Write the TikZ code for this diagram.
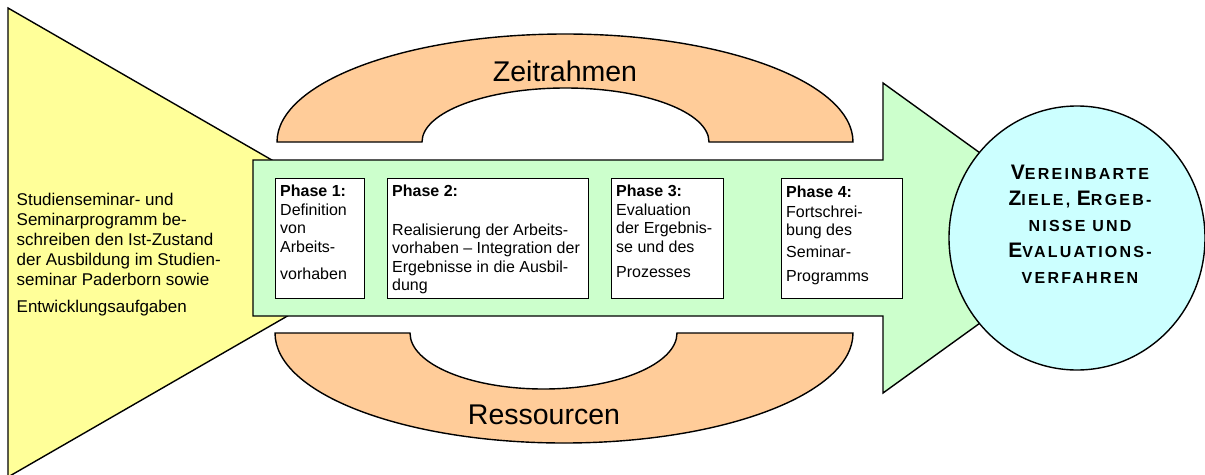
\documentclass[tikz,border=0pt]{standalone}
\usepackage{fontspec}
\setmainfont{Liberation Sans}
\definecolor{yel}{HTML}{FFFF99}
\definecolor{grn}{HTML}{CCFFCC}
\definecolor{org}{HTML}{FFCC99}
\definecolor{cyn}{HTML}{CCFFFF}
\newcommand{\BigC}[1]{{\fontsize{21}{26}\selectfont #1}}
\begin{document}
\begin{tikzpicture}[x=1pt,y=-1pt,line width=1.4pt,line join=miter,
  outl/.style={draw=black,line width=1.4pt},
  phasebox/.style={draw=black,fill=white,line width=1.4pt,rectangle,inner sep=0pt},
  phasetext/.style={anchor=north west,inner sep=0pt,align=left,font=\fontsize{16}{18.5}\selectfont},
  bigtext/.style={inner sep=0pt,font=\fontsize{28.5}{32}\selectfont}]
\useasboundingbox (0,0) rectangle (1205,474);
% yellow triangle
\draw[outl,fill=yel] (8,8) -- (415,242.5) -- (8,477) -- cycle;
% orange block arcs
\draw[outl,fill=org] (277,142) arc[start angle=180,end angle=360,x radius=288,y radius=108]
   -- (709,142) arc[start angle=360,end angle=180,x radius=143.5,y radius=54] -- cycle;
\draw[outl,fill=org] (275,333) arc[start angle=180,end angle=0,x radius=289,y radius=110]
   -- (677,333) arc[start angle=0,end angle=180,x radius=133.5,y radius=56] -- cycle;
\node[bigtext] (zeit) at (565,71.5) {Zeitrahmen};
\node[bigtext] (ress) at (544,415) {Ressourcen};
% green arrow
\draw[outl,fill=grn] (253,160) -- (883,160) -- (883,83) -- (1098,238) -- (883,393) -- (883,316) -- (253,316) -- cycle;
% circle
\draw[outl,fill=cyn] (1077,238) ellipse[x radius=128,y radius=132];
\node[inner sep=0pt,align=center,anchor=north,
  font=\fontsize{16}{26}\selectfont\bfseries\addfontfeatures{LetterSpace=14}] (goal) at (1080,164.5)
  {\BigC{V}EREINBARTE\\\BigC{Z}IELE, \BigC{E}RGEB-\\NISSE UND\\\BigC{E}VALUATIONS-\\VERFAHREN};
% phase boxes
\node[phasebox,minimum width=89pt,minimum height=120pt,anchor=north west] (b1) at (275,178) {};
\node[phasebox,minimum width=201pt,minimum height=120pt,anchor=north west] (b2) at (387,178) {};
\node[phasebox,minimum width=112pt,minimum height=120pt,anchor=north west] (b3) at (611,178) {};
\node[phasebox,minimum width=121pt,minimum height=120pt,anchor=north west] (b4) at (781,178) {};
\node[phasetext] (t1) at (279.5,184.5) {\textbf{Phase 1:}\\Definition\\von\\Arbeits-\\[9pt]vorhaben};
\node[phasetext] (t2) at (391.5,184.5) {\textbf{Phase 2:}\\[20pt]Realisierung der Arbeits-\\vorhaben – Integration der\\Ergebnisse in die Ausbil-\\dung};
\node[phasetext] (t3) at (615.5,184.5) {\textbf{Phase 3:}\\Evaluation\\der Ergebnis-\\se und des\\[7pt]Prozesses};
\node[phasetext] (t4) at (785.5,185.5) {\textbf{Phase 4:}\\[1pt]Fortschrei-\\bung des\\[3pt]Seminar-\\[6pt]Programms};
% left text
\node[anchor=north west,inner sep=0pt,align=left,font=\fontsize{17}{20}\selectfont] (left) at (16,192.5)
  {Studienseminar- und\\Seminarprogramm be-\\schreiben den Ist-Zustand\\der Ausbildung im Studien-\\seminar Paderborn sowie\\[7pt]Entwicklungsaufgaben};
\end{tikzpicture}
\end{document}
